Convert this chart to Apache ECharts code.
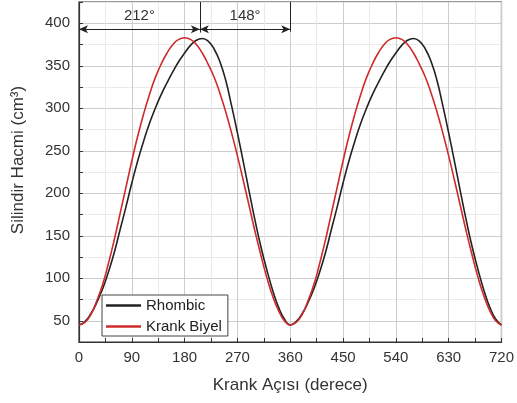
<!DOCTYPE html>
<html>
<head>
<meta charset="utf-8">
<script src="https://cdn.jsdelivr.net/npm/echarts@6/dist/echarts.min.js"></script>
<style>
  html, body { margin: 0; padding: 0; background: #fff; }
  #chart { width: 517px; height: 403px; }
</style>
</head>
<body>
<div id="chart"></div>
<script>
// krank açısı (derece)
var angles = [0, 10, 20, 30, 40, 50, 60, 70, 80, 90, 100, 110, 120, 130, 140, 150, 160, 170, 180,
  190, 200, 210, 220, 230, 240, 250, 260, 270, 280, 290, 300, 310, 320, 330, 340, 350, 360,
  370, 380, 390, 400, 410, 420, 430, 440, 450, 460, 470, 480, 490, 500, 510, 520, 530, 540,
  550, 560, 570, 580, 590, 600, 610, 620, 630, 640, 650, 660, 670, 680, 690, 700, 710, 720]

// silindir hacmi (cm3)
var rhombic = [45, 49, 58, 71, 87, 107, 130, 157, 184, 212, 238, 261, 282, 300, 316, 330, 343, 355, 365,
  374, 380, 382, 379, 370, 355, 333, 303, 271, 237, 202, 168, 137, 110, 86, 66, 52, 45,
  49, 58, 71, 87, 107, 130, 157, 184, 212, 238, 261, 282, 300, 316, 330, 343, 355, 365,
  374, 380, 382, 379, 370, 355, 333, 303, 271, 237, 202, 168, 137, 110, 86, 66, 52, 45]

var krankBiyel = [45, 48, 57, 73, 92, 117, 145, 176, 207, 238, 267, 293, 316, 336, 352, 365, 375, 381, 383,
  381, 375, 365, 352, 337, 318, 296, 271, 244, 215, 185, 155, 127, 101, 79, 62, 50, 45,
  48, 57, 73, 92, 117, 145, 176, 207, 238, 267, 293, 316, 336, 352, 365, 375, 381, 383,
  381, 375, 365, 352, 337, 318, 296, 271, 244, 215, 185, 155, 127, 101, 79, 62, 50, 45]

var seriesNames = ['Rhombic', 'Krank Biyel']
var seriesColors = ['#222222', '#cf2b2b']

// üstteki ok işaretleri
var arrowY = 393
var splitAngle = 206
var arrowLabels = ['212°', '148°']

function toPairs (xs, ys) {
  var out = []
  for (var i = 0; i < xs.length; i++) {
    out.push([xs[i], ys[i]])
  }
  return out
}

var font = '"Liberation Sans", Arial, sans-serif'
var myChart = echarts.init(document.getElementById('chart'))

var option = {
  animation: false,
  grid: {
    left: 79, right: 12, top: 2, bottom: 61,
    show: true, borderColor: '#333', borderWidth: 1.2
  },
  xAxis: {
    type: 'value',
    min: 0, max: 720, interval: 45,
    name: 'Krank Açısı (derece)',
    nameLocation: 'middle',
    nameGap: 35,
    nameTextStyle: { fontSize: 17, color: '#333', fontFamily: font },
    axisLine: { lineStyle: { color: '#333', width: 1.2 } },
    axisTick: { inside: true, length: 4, lineStyle: { color: '#333' } },
    axisLabel: {
      fontSize: 15, color: '#333', fontFamily: font, margin: 8,
      formatter: function (v) { return v % 90 === 0 ? v : '' }
    },
    splitLine: { show: true, lineStyle: { color: ['#cdcdcd', '#eaeaea'], width: 1 } }
  },
  yAxis: {
    type: 'value',
    min: 25, max: 425, interval: 25,
    axisLine: { show: true, lineStyle: { color: '#333', width: 1.2 } },
    axisTick: { show: true, inside: true, length: 4, lineStyle: { color: '#333' } },
    axisLabel: {
      fontSize: 15, color: '#333', fontFamily: font, margin: 9,
      formatter: function (v) { return v % 50 === 0 ? v : '' }
    },
    splitLine: { show: true, lineStyle: { color: ['#eaeaea', '#cdcdcd'], width: 1 } }
  },
  legend: {
    orient: 'vertical',
    left: 102, top: 295,
    icon: 'rect',
    itemWidth: 35, itemHeight: 2.5, itemGap: 6,
    padding: [3, 6, 2, 4],
    borderColor: '#444', borderWidth: 1, borderRadius: 0,
    backgroundColor: '#fff',
    textStyle: { fontSize: 15, color: '#222', fontFamily: font },
    data: seriesNames
  },
  graphic: [{
    type: 'text',
    x: 18, y: 160,
    rotation: Math.PI / 2,
    style: {
      text: 'Silindir Hacmi (cm³)',
      font: '17px ' + font,
      fill: '#333',
      align: 'center',
      verticalAlign: 'middle'
    }
  }],
  series: [
    {
      name: seriesNames[0],
      type: 'line',
      data: toPairs(angles, rhombic),
      smooth: true,
      showSymbol: false,
      symbol: 'none',
      lineStyle: { color: seriesColors[0], width: 1.6 },
      itemStyle: { color: seriesColors[0] },
      markLine: {
        silent: true,
        symbol: ['arrow', 'arrow'],
        symbolSize: [6, 9],
        lineStyle: { color: '#222', width: 1, type: 'solid' },
        label: {
          show: true, position: 'insideMiddleTop', distance: 6,
          fontSize: 15, color: '#333', fontFamily: font
        },
        data: [
          [{ coord: [0, arrowY], label: { formatter: arrowLabels[0] } }, { coord: [splitAngle, arrowY] }],
          [{ coord: [splitAngle, arrowY], label: { formatter: arrowLabels[1] } }, { coord: [360, arrowY] }],
          [{ coord: [splitAngle, 425], symbol: 'none', label: { show: false } }, { coord: [splitAngle, 389], symbol: 'none' }],
          [{ coord: [360, 425], symbol: 'none', label: { show: false } }, { coord: [360, 390], symbol: 'none' }]
        ]
      }
    },
    {
      name: seriesNames[1],
      type: 'line',
      data: toPairs(angles, krankBiyel),
      smooth: true,
      showSymbol: false,
      symbol: 'none',
      lineStyle: { color: seriesColors[1], width: 1.6 },
      itemStyle: { color: seriesColors[1] }
    }
  ]
}

myChart.setOption(option, true)
window.addEventListener('resize', function () {
  myChart.resize()
})
</script>
</body>
</html>
